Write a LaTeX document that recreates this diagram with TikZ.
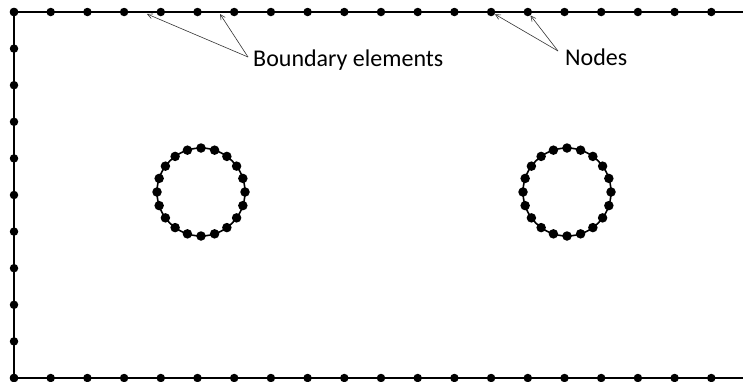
\documentclass[tikz,border=0pt]{standalone}
\usepackage{fontspec}
\setmainfont{Carlito}
\usetikzlibrary{arrows.meta}
\begin{document}
\begin{tikzpicture}[x=1pt,y=-1pt,
  bnode/.style={circle,fill=black,inner sep=0pt,minimum size=8.5pt},
  hnode/.style={circle,fill=black,inner sep=0pt,minimum size=9.5pt},
  edgeline/.style={line width=2.4pt},
  holeline/.style={line width=1.6pt},
  pointer/.style={line width=0.6pt,draw=black!80,-{Straight Barb[length=5pt,width=5pt]}},
  lbl/.style={font=\fontsize{24}{28}\selectfont,inner sep=0pt,anchor=base west}]
\useasboundingbox (0,0) rectangle (743,381);

% outer boundary
\coordinate (TL) at (14,12);
\coordinate (BR) at (748,378);
\draw[edgeline] (TL) rectangle (BR);

% boundary nodes, 20 elements along the long sides, 10 along the short ones
\foreach \k in {0,...,20} {
  \node[bnode] (t\k) at ({14+36.7*\k},12) {};
  \node[bnode] (b\k) at ({14+36.7*\k},378) {};
}
\foreach \k in {0,...,10} {
  \node[bnode] (l\k) at (14,{12+36.6*\k}) {};
  \node[bnode] (r\k) at (748,{12+36.6*\k}) {};
}

% two circular holes, 20 elements each
\foreach \cx/\n in {201/A,567/B} {
  \coordinate (\n) at (\cx,192);
  \draw[holeline] (\n) circle[radius=44];
  \foreach \k in {0,...,19} {
    \node[hnode] (\n\k) at ([shift={(90+18*\k:44)}]\n) {};
  }
}

% labels with pointers
\node[lbl] (be) at (253,66) {Boundary elements};
\coordinate (beTail) at (248,57);
\coordinate (e3) at (147,14);
\coordinate (e5) at (220,14);
\draw[pointer] (beTail) -- (e3);
\draw[pointer] (beTail) -- (e5);

\node[lbl] (nd) at (565,65) {Nodes};
\coordinate (ndTail) at (558,51);
\draw[pointer] (ndTail) -- (t13);
\draw[pointer] (ndTail) -- (t14);
\end{tikzpicture}
\end{document}
